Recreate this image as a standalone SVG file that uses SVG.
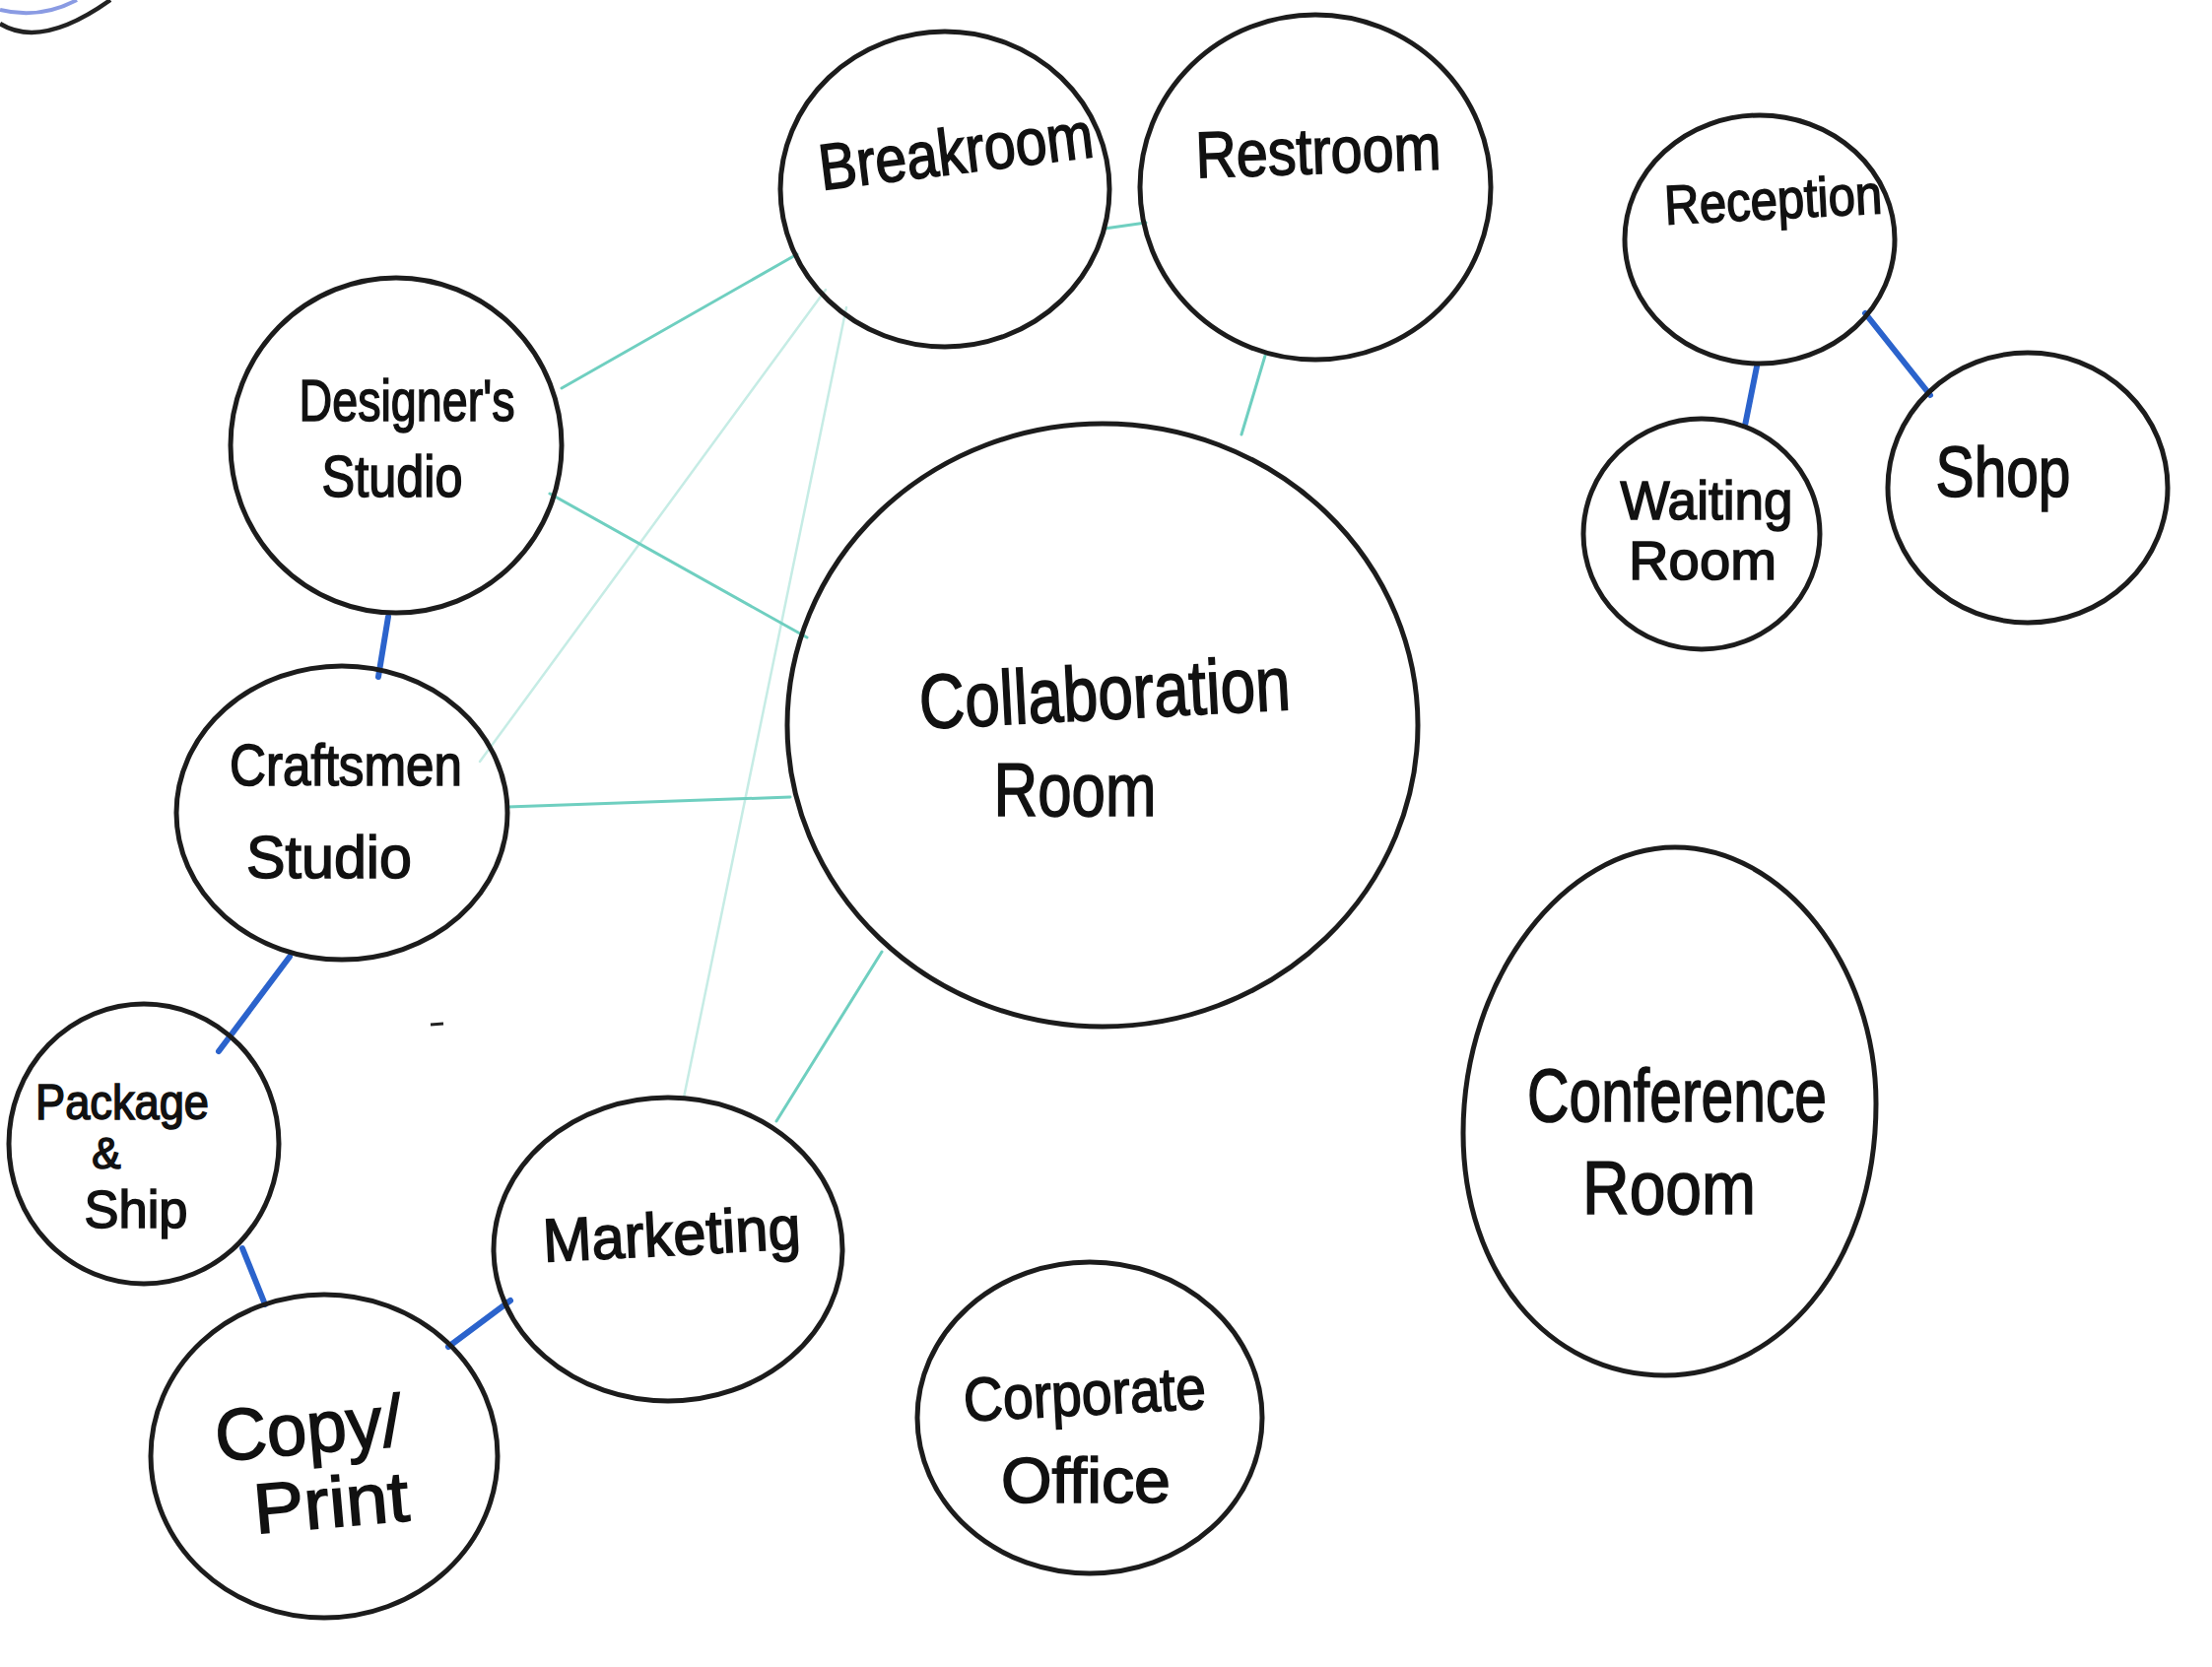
<svg xmlns="http://www.w3.org/2000/svg" width="2245" height="1692" viewBox="0 0 2245 1692">
<style>
.node{fill:none;stroke:#1c1c1c;stroke-width:5;stroke-linecap:round}
.lbl{font-family:"Liberation Sans","DejaVu Sans",sans-serif;fill:#111;stroke:#111;stroke-width:1.6;text-anchor:middle}
.teal{stroke:#6fcfc0;stroke-width:3;fill:none;stroke-linecap:round}
.faint{stroke:#c6ece5;stroke-width:2.5;fill:none;stroke-linecap:round}
.blue{stroke:#2b63cc;stroke-width:6;fill:none;stroke-linecap:round}
</style>
<rect width="2245" height="1692" fill="#ffffff"/>
<g id="corner-mark">
<path d="M0,10 Q40,20 78,0" fill="none" stroke="#8a9be3" stroke-width="4"/>
<path d="M0,24 Q42,50 112,0" fill="none" stroke="#222" stroke-width="4.5"/>
<path d="M437,1040 L450,1039" stroke="#222" stroke-width="3"/>
</g>
<g id="connectors">
<line class="teal" x1="1121" y1="232" x2="1163" y2="226"/>
<line class="teal" x1="1284" y1="361" x2="1260" y2="441"/>
<line class="teal" x1="809" y1="258" x2="570" y2="394"/>
<line class="faint" x1="838" y1="294" x2="487" y2="773"/>
<line class="faint" x1="859" y1="312" x2="694" y2="1114"/>
<line class="teal" x1="558" y1="501" x2="819" y2="647"/>
<line class="teal" x1="515" y1="819" x2="802" y2="809"/>
<line class="teal" x1="895" y1="966" x2="788" y2="1138"/>
<line class="blue" x1="394" y1="626" x2="384" y2="687"/>
<line class="blue" x1="294" y1="971" x2="222" y2="1067" stroke-width="7"/>
<line class="blue" x1="246" y1="1267" x2="269" y2="1324"/>
<line class="blue" x1="455" y1="1367" x2="518" y2="1320"/>
<line class="blue" x1="1783" y1="372" x2="1771" y2="432"/>
<line class="blue" x1="1893" y1="318" x2="1959" y2="401"/>
</g>
<g id="breakroom">
<ellipse class="node" cx="959" cy="192" rx="167" ry="160"/>
<text class="lbl" x="971" y="176" font-size="66" textLength="280" lengthAdjust="spacingAndGlyphs" transform="rotate(-7 971 160)">Breakroom</text>
</g>
<g id="restroom">
<ellipse class="node" cx="1335" cy="190" rx="178" ry="175"/>
<text class="lbl" x="1338" y="176" font-size="66" textLength="249" lengthAdjust="spacingAndGlyphs" transform="rotate(-2 1338 160)">Restroom</text>
</g>
<g id="reception">
<ellipse class="node" cx="1786" cy="243" rx="137" ry="126"/>
<text class="lbl" x="1800" y="222" font-size="56" textLength="221" lengthAdjust="spacingAndGlyphs" transform="rotate(-3 1800 210)">Reception</text>
</g>
<g id="waiting-room">
<ellipse class="node" cx="1727" cy="542" rx="120" ry="117"/>
<text class="lbl" x="1732" y="527" font-size="56" textLength="175" lengthAdjust="spacingAndGlyphs">Waiting</text>
<text class="lbl" x="1728" y="588" font-size="56" textLength="150" lengthAdjust="spacingAndGlyphs">Room</text>
</g>
<g id="shop">
<ellipse class="node" cx="2058" cy="495" rx="142" ry="137"/>
<text class="lbl" x="2033" y="504" font-size="72" textLength="137" lengthAdjust="spacingAndGlyphs">Shop</text>
</g>
<g id="designers-studio">
<ellipse class="node" cx="402" cy="452" rx="168" ry="170"/>
<text class="lbl" x="413" y="427" font-size="60" textLength="219" lengthAdjust="spacingAndGlyphs">Designer's</text>
<text class="lbl" x="398" y="504" font-size="60" textLength="143" lengthAdjust="spacingAndGlyphs">Studio</text>
</g>
<g id="collaboration-room">
<ellipse class="node" cx="1119" cy="736" rx="320" ry="306"/>
<text class="lbl" x="1121" y="730" font-size="78" textLength="377" lengthAdjust="spacingAndGlyphs" transform="rotate(-3 1121 700)">Collaboration</text>
<text class="lbl" x="1091" y="828" font-size="76" textLength="165" lengthAdjust="spacingAndGlyphs">Room</text>
</g>
<g id="craftsmen-studio">
<ellipse class="node" cx="347" cy="825" rx="168" ry="149"/>
<text class="lbl" x="351" y="797" font-size="60" textLength="236" lengthAdjust="spacingAndGlyphs">Craftsmen</text>
<text class="lbl" x="334" y="891" font-size="62" textLength="168" lengthAdjust="spacingAndGlyphs">Studio</text>
</g>
<g id="package-ship">
<ellipse class="node" cx="146" cy="1161" rx="137" ry="142"/>
<text class="lbl" x="124" y="1136" font-size="50" textLength="176" lengthAdjust="spacingAndGlyphs">Package</text>
<text class="lbl" x="108" y="1186" font-size="44">&amp;</text>
<text class="lbl" x="138" y="1246" font-size="54" textLength="105" lengthAdjust="spacingAndGlyphs">Ship</text>
</g>
<g id="marketing">
<ellipse class="node" cx="678" cy="1268" rx="177" ry="154"/>
<text class="lbl" x="682" y="1274" font-size="62" textLength="262" lengthAdjust="spacingAndGlyphs" transform="rotate(-3 682 1260)">Marketing</text>
</g>
<g id="copy-print">
<ellipse class="node" cx="329" cy="1478" rx="176" ry="164"/>
<text class="lbl" x="313" y="1475" font-size="74" textLength="190" lengthAdjust="spacingAndGlyphs" transform="rotate(-5 313 1450)">Copy/</text>
<text class="lbl" x="336" y="1550" font-size="72" textLength="158" lengthAdjust="spacingAndGlyphs" transform="rotate(-5 336 1525)">Print</text>
</g>
<g id="corporate-office">
<ellipse class="node" cx="1106" cy="1439" rx="175" ry="158"/>
<text class="lbl" x="1101" y="1436" font-size="62" textLength="246" lengthAdjust="spacingAndGlyphs" transform="rotate(-3 1101 1420)">Corporate</text>
<text class="lbl" x="1102" y="1525" font-size="64" textLength="172" lengthAdjust="spacingAndGlyphs">Office</text>
</g>
<g id="conference-room">
<path class="node" d="M1700,860 C1810,860 1904,980 1904,1120 C1904,1290 1800,1396 1690,1396 C1570,1396 1485,1290 1485,1150 C1485,990 1590,860 1700,860 Z"/>
<text class="lbl" x="1702" y="1138" font-size="76" textLength="304" lengthAdjust="spacingAndGlyphs">Conference</text>
<text class="lbl" x="1694" y="1232" font-size="76" textLength="176" lengthAdjust="spacingAndGlyphs">Room</text>
</g>
</svg>
